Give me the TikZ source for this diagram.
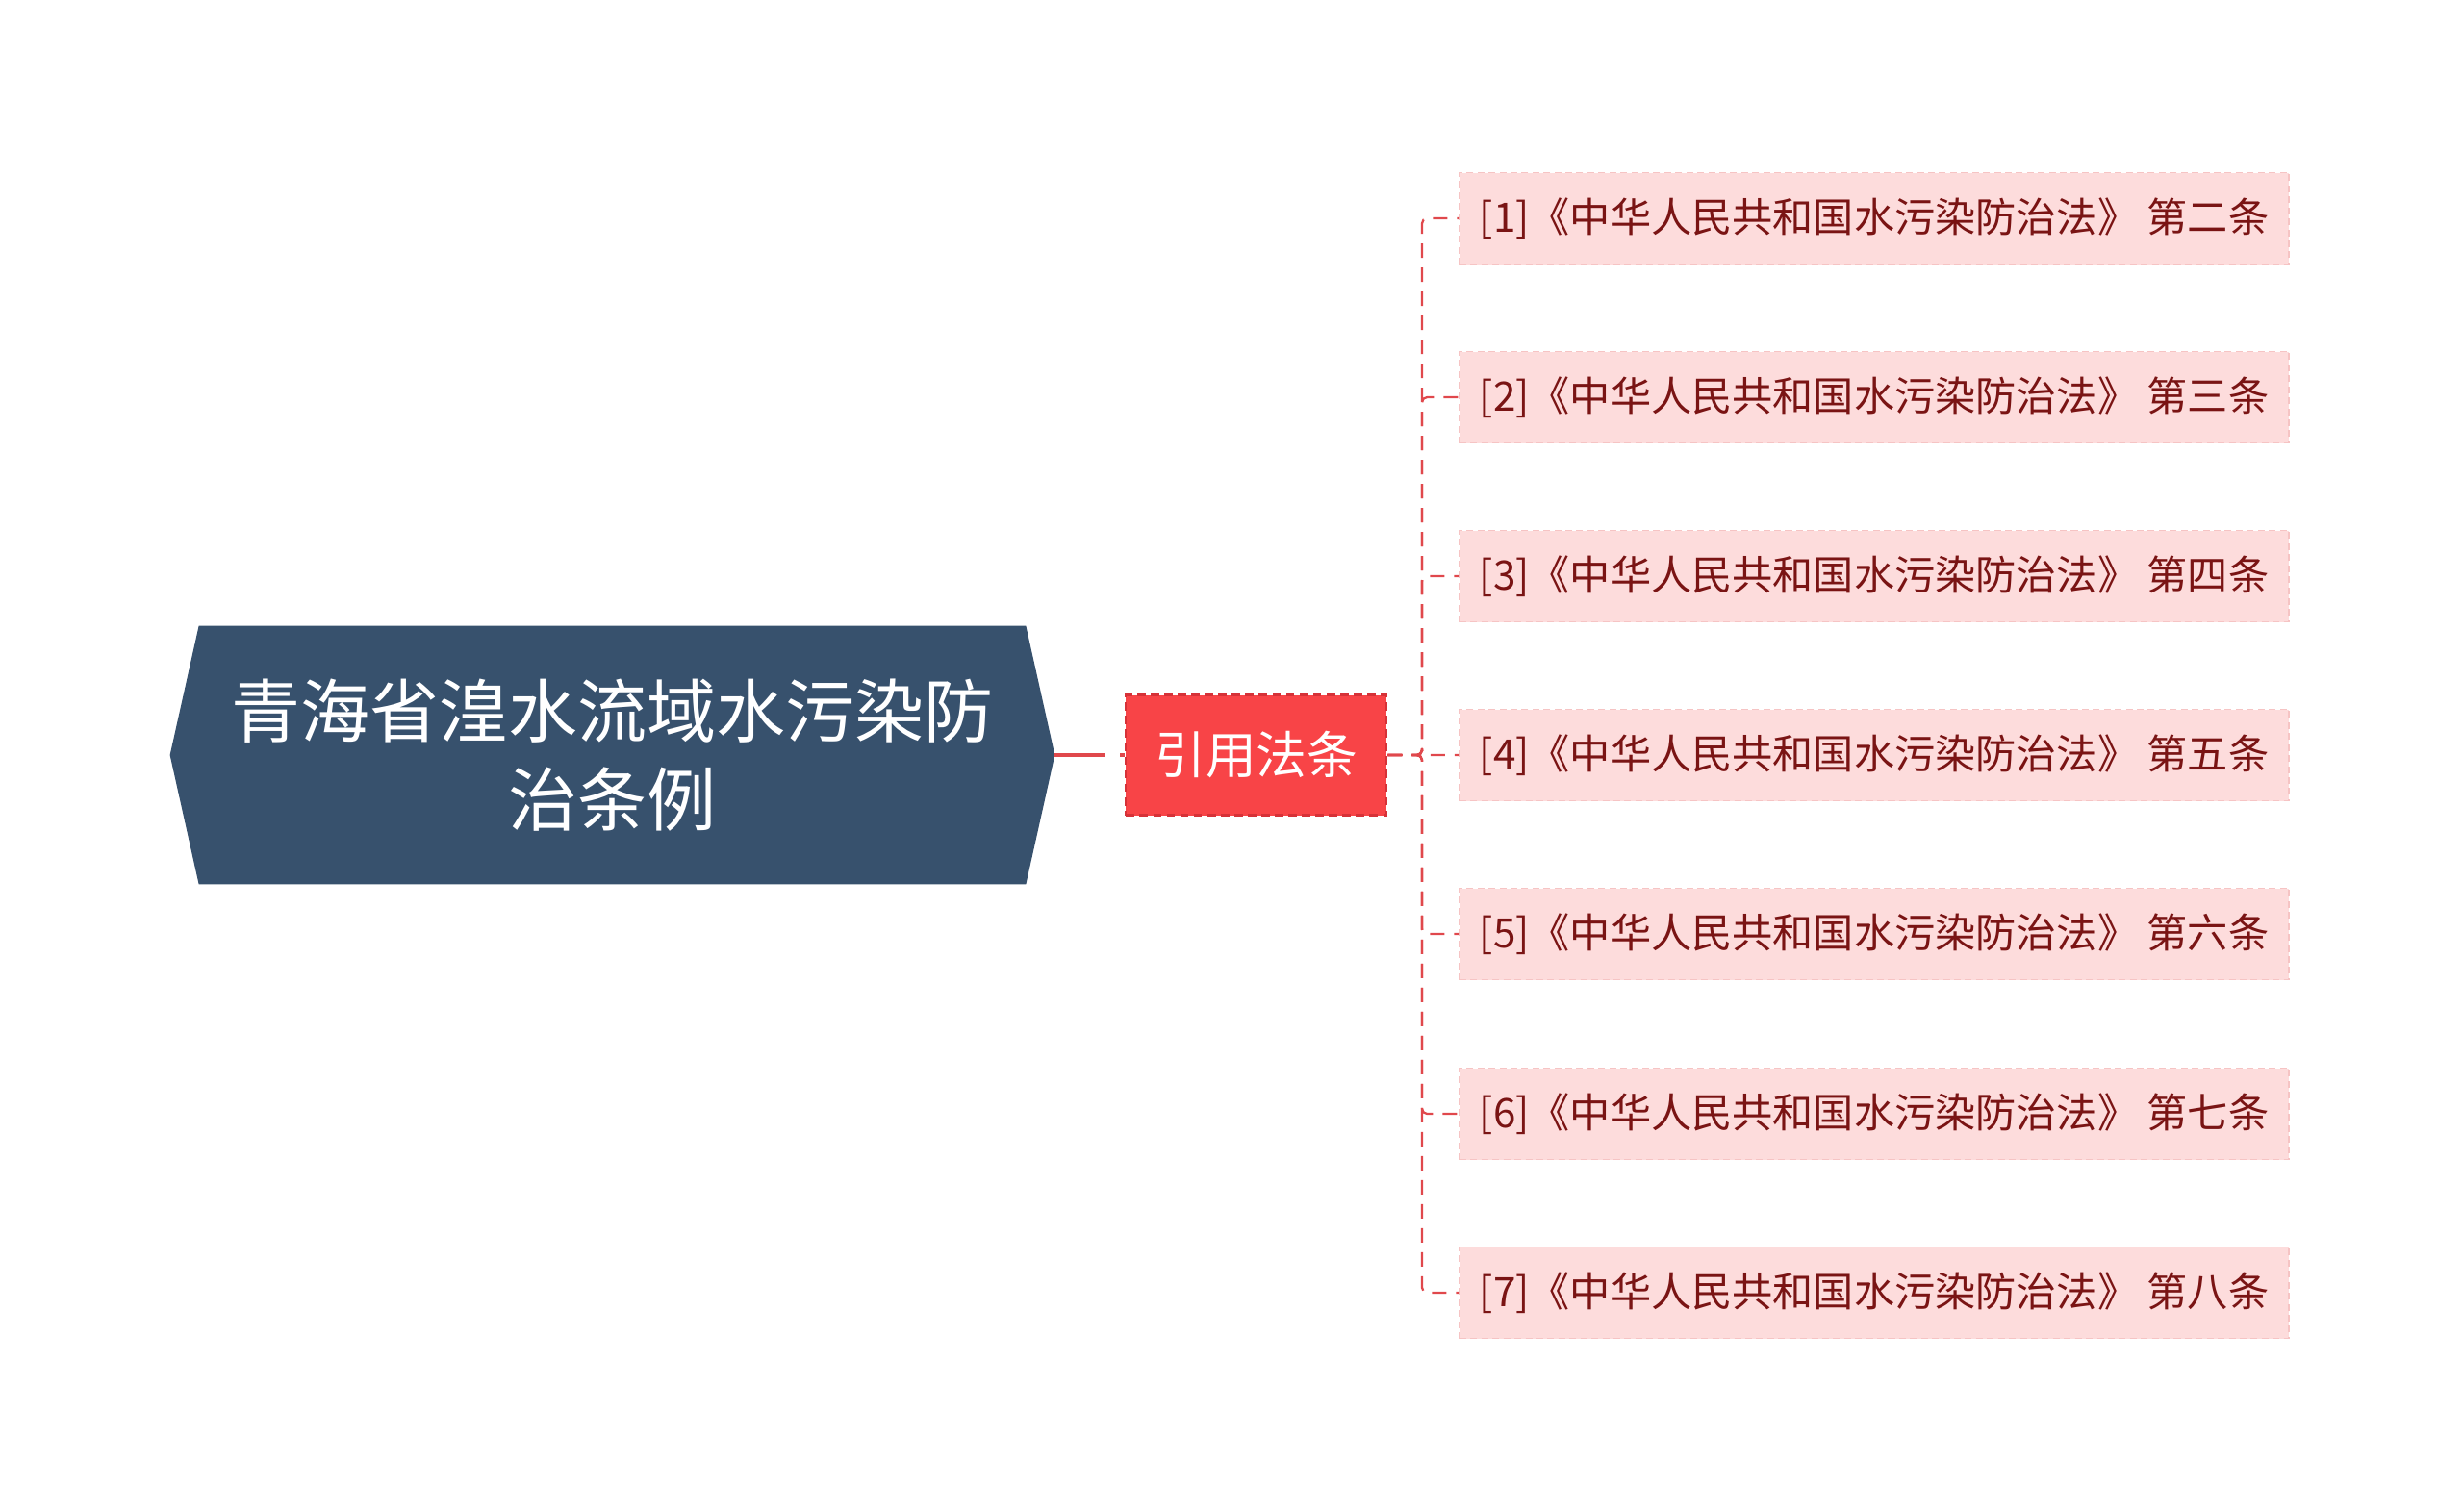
\documentclass[tikz,border=0pt]{standalone}
\usepackage{fontspec}
\setmainfont{Noto Sans CJK SC}
\usepackage{tikz}
\usetikzlibrary{positioning, backgrounds}
\definecolor{rootbg}{RGB}{55,81,109}
\definecolor{citebg}{RGB}{248,68,71}
\definecolor{citeline}{RGB}{214,50,56}
\definecolor{leafbg}{RGB}{253,220,220}
\definecolor{leafline}{RGB}{246,196,196}
\definecolor{leaftext}{RGB}{122,20,20}
\definecolor{linkred}{RGB}{224,72,76}

\begin{document}
\begin{tikzpicture}[node distance=2.06cm,
  leafbox/.style={fill=leafbg, draw=leafline, dash pattern=on 4pt off 2.5pt,
        line width=1pt, minimum width=17.24cm, minimum height=1.9cm,
        inner sep=0pt, text=leaftext, font=\fontsize{24pt}{28pt}\selectfont},
  link/.style={draw=linkred, line width=1.3pt, dash pattern=on 0.3cm off 0.2cm,
        rounded corners=3pt}]
  \useasboundingbox (0,0) rectangle (51.2,-31.42);
  % root
  \node[text=white, align=center, minimum width=17.18cm, minimum height=5.36cm,
        font=\fontsize{41pt}{52pt}\selectfont] (root) at (12.73,-15.7)
    {青海省湟水流域水污染防\\治条例};
  \begin{scope}[on background layer]
    \fill[rootbg] (root.north west) -- (root.north east)
      -- ([xshift=0.6cm]root.east) -- (root.south east) -- (root.south west)
      -- ([xshift=-0.6cm]root.west) -- cycle;
  \end{scope}
  \coordinate (tip) at ([xshift=0.6cm]root.east);
  % cited laws
  \node[fill=citebg, draw=citeline, dash pattern=on 5pt off 3pt, line width=1.2pt,
        minimum width=5.42cm, minimum height=2.5cm, text=white,
        font=\fontsize{30pt}{36pt}\selectfont, right=of root] (cite) {引用法条};
  \draw[linkred, line width=1.8pt, dash pattern=on 1.06cm off 0.3cm] (tip) -- (cite);
  \coordinate (trunk) at (29.56,-15.7);
  \foreach \i/\y/\n in {1/-4.54/二, 2/-8.26/三, 3/-11.98/四, 4/-15.7/五,
                        5/-19.42/六, 6/-23.16/七, 7/-26.88/八}
    \node[leafbox] (leaf\i) at (38.96,\y) {[\i]《中华人民共和国水污染防治法》 第\n 条};
  \foreach \i in {1,...,7}
    \draw[link] (cite.east) -- (trunk) |- (leaf\i.west);
\end{tikzpicture}
\end{document}
